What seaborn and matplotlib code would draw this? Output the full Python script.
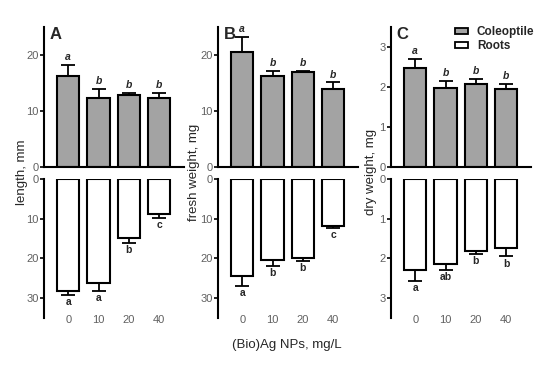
import matplotlib
matplotlib.use("Agg")
import matplotlib.pyplot as plt
import seaborn as sns
import pandas as pd
import numpy as np
from matplotlib.patches import Patch

sns.set_theme(style="white")
plt.rcParams['font.family'] = ['Liberation Sans', 'DejaVu Sans']

conc = ["0", "10", "20", "40"]

# Panel A: length, mm
len_cole = [16.3, 12.4, 12.9, 12.3]
len_cole_err = [1.9, 1.5, 0.4, 0.9]
len_root = [28.2, 26.3, 14.9, 8.7]
len_root_err = [1.0, 2.0, 1.3, 1.2]
len_cole_letters = ["a", "b", "b", "b"]
len_root_letters = ["a", "a", "b", "c"]

# Panel B: fresh weight, mg
fw_cole = [20.6, 16.3, 16.9, 14.0]
fw_cole_err = [2.7, 0.8, 0.3, 1.1]
fw_root = [24.4, 20.4, 19.8, 11.9]
fw_root_err = [2.5, 1.5, 0.9, 0.35]
fw_cole_letters = ["a", "b", "b", "b"]
fw_root_letters = ["a", "b", "b", "c"]

# Panel C: dry weight, mg
dw_cole = [2.47, 1.97, 2.07, 1.96]
dw_cole_err = [0.23, 0.19, 0.13, 0.11]
dw_root = [2.3, 2.13, 1.82, 1.74]
dw_root_err = [0.27, 0.15, 0.06, 0.21]
dw_cole_letters = ["a", "b", "b", "b"]
dw_root_letters = ["a", "ab", "b", "b"]

panels = [
    dict(label="A", ylabel="length, mm", cole=len_cole, ce=len_cole_err, root=len_root,
         re=len_root_err, cl=len_cole_letters, rl=len_root_letters,
         top_lim=25, top_ticks=[0, 10, 20], bot_lim=35, bot_ticks=[0, 10, 20, 30],
         left=44, yl_off=22),
    dict(label="B", ylabel="fresh weight, mg", cole=fw_cole, ce=fw_cole_err, root=fw_root,
         re=fw_root_err, cl=fw_cole_letters, rl=fw_root_letters,
         top_lim=25, top_ticks=[0, 10, 20], bot_lim=35, bot_ticks=[0, 10, 20, 30],
         left=218, yl_off=24),
    dict(label="C", ylabel="dry weight, mg", cole=dw_cole, ce=dw_cole_err, root=dw_root,
         re=dw_root_err, cl=dw_cole_letters, rl=dw_root_letters,
         top_lim=3.5, top_ticks=[0, 1, 2, 3], bot_lim=3.5, bot_ticks=[0, 1, 2, 3],
         left=391, yl_off=20),
]

W, H = 550, 365
fig = plt.figure(figsize=(5.5, 3.65), dpi=100)

gray_bar = "#a3a3a3"
tick_col = "#606060"
lw = 1.5

for p in panels:
    left = p["left"] / W
    width = 140 / W
    ax_t = fig.add_axes([left, (H - 167) / H, width, 140 / H])
    ax_b = fig.add_axes([left, (H - 318) / H, width, 139 / H])

    df_t = pd.DataFrame({"conc": conc, "val": p["cole"]})
    df_b = pd.DataFrame({"conc": conc, "val": p["root"]})
    sns.barplot(data=df_t, x="conc", y="val", ax=ax_t, color=gray_bar, saturation=1,
                edgecolor="black", linewidth=lw, width=0.74, errorbar=None)
    sns.barplot(data=df_b, x="conc", y="val", ax=ax_b, color="white", saturation=1,
                edgecolor="black", linewidth=lw, width=0.74, errorbar=None)
    xs = np.arange(len(conc))
    ax_t.errorbar(xs, p["cole"], yerr=[np.zeros(4), p["ce"]], fmt="none", ecolor="black",
                  elinewidth=1.3, capsize=4.7, capthick=1.3, zorder=1)
    ax_b.errorbar(xs, p["root"], yerr=[np.zeros(4), p["re"]], fmt="none", ecolor="black",
                  elinewidth=1.3, capsize=4.7, capthick=1.3, zorder=1)

    for ax in (ax_t, ax_b):
        ax.set_xlim(-0.8, 3.82)
        ax.set_xlabel("")
        ax.set_ylabel("")
        for s in ["top", "right"]:
            ax.spines[s].set_visible(False)
        ax.spines["left"].set_linewidth(lw)
        ax.spines["left"].set_color("black")
        ax.tick_params(axis="y", length=3, width=1.2, colors="black", labelcolor=tick_col,
                       labelsize=8, pad=1, left=True, direction="out")

    ax_t.set_ylim(0, p["top_lim"])
    ax_t.set_yticks(p["top_ticks"])
    ax_t.spines["bottom"].set_linewidth(lw)
    ax_t.spines["bottom"].set_color("black")
    ax_t.tick_params(axis="x", bottom=False, labelbottom=False, length=0)

    ax_b.set_ylim(p["bot_lim"], 0)
    ax_b.set_yticks(p["bot_ticks"])
    ax_b.spines["bottom"].set_visible(False)
    ax_b.tick_params(axis="x", bottom=False, length=0, labelbottom=True, labelsize=8,
                     labelcolor=tick_col, pad=-2)

    # letters
    tl = p["top_lim"]
    for i, (v, e, t) in enumerate(zip(p["cole"], p["ce"], p["cl"])):
        ax_t.text(i, v + e + tl * 0.02, t, ha="center", va="bottom", fontsize=7.5,
                  fontweight="bold", fontstyle="italic")
    bl = p["bot_lim"]
    for i, (v, e, t) in enumerate(zip(p["root"], p["re"], p["rl"])):
        ax_b.text(i, v + e + bl * 0.015, t, ha="center", va="top", fontsize=7.5,
                  fontweight="bold")

    ax_t.text(0.04, 1.0, p["label"], transform=ax_t.transAxes, fontsize=12,
              fontweight="bold", ha="left", va="top")

    fig.text((p["left"] - p["yl_off"]) / W, (H - 172) / H, p["ylabel"], rotation=90,
             ha="center", va="center", fontsize=9.5)

    if p["label"] == "C":
        handles = [Patch(facecolor=gray_bar, edgecolor="black", linewidth=1.3, label="Coleoptile"),
                   Patch(facecolor="white", edgecolor="black", linewidth=1.3, label="Roots")]
        leg = ax_t.legend(handles=handles, loc="upper left", bbox_to_anchor=(0.42, 1.04),
                          frameon=False, fontsize=8.5, handlelength=1.1, handleheight=0.45,
                          handletextpad=0.8, labelspacing=0.15, borderaxespad=0)
        for t in leg.get_texts():
            t.set_fontweight("bold")

fig.text(287 / W, (H - 345) / H, "(Bio)Ag NPs, mg/L", ha="center", va="center", fontsize=9.5)

fig.savefig("out.png", dpi=100)
